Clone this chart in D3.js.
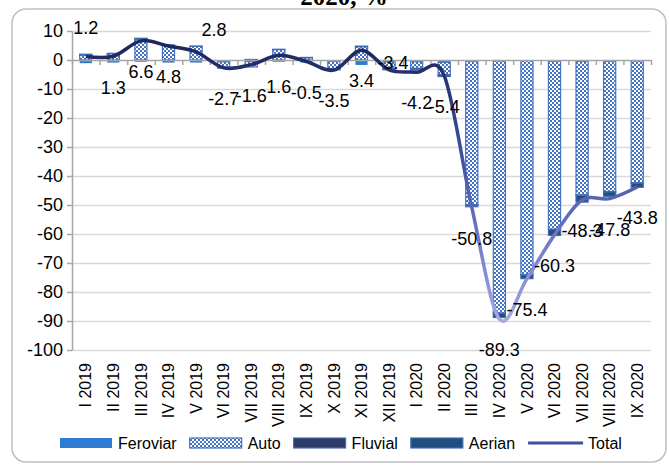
<!DOCTYPE html>
<html>
<head>
<meta charset="utf-8">
<script src="https://cdn.jsdelivr.net/npm/d3@7"></script>
<style>
    body { margin: 0; background: #fff; }
    svg { display: block; }
    text { font-family: "Liberation Sans", Arial, sans-serif; fill: #000; }
</style>
</head>
<body>
<div id="chart"></div>
<script>
// data: contributions per mode (stacked) and total change, %
const categories = ["I 2019", "II 2019", "III 2019", "IV 2019", "V 2019", "VI 2019", "VII 2019",
    "VIII 2019", "IX 2019", "X 2019", "XI 2019", "XII 2019", "I 2020", "II 2020", "III 2020",
    "IV 2020", "V 2020", "VI 2020", "VII 2020", "VIII 2020", "IX 2020"];
const feroviar = [-1.1, -0.9, -0.6, -0.9, -0.9, -0.6, -0.5, -0.6, -0.9, -0.4, -1.7, -0.5, -0.6, -0.8,
    -0.4, -0.3, -0.2, -0.4, -0.5, -0.4, -0.3];
const auto = [1.7, 2.2, 7.2, 5.0, 4.7, -1.9, -1.9, 3.6, 0.8, -2.6, 4.6, -2.5, -2.3, -4.3,
    -49.5, -87.0, -73.9, -58.0, -46.1, -45.0, -42.1];
const fluvial = [0.1, 0, 0.1, 0, 0, -0.1, 0.1, 0, 0, -0.1, 0, -0.1, -0.1, -0.1,
    -0.2, -0.1, -0.1, -0.1, -0.1, -0.1, -0.1];
const aerian = [0.2, 0.1, 0.2, 0.2, 0.1, -0.2, 0.1, 0.1, 0.1, -0.3, 0.2, -0.3, -0.4, -0.5,
    -0.5, -1.4, -1.2, -2.0, -2.3, -1.5, -1.4];
const total = [1.2, 1.3, 6.6, 4.8, 2.8, -2.7, -1.6, 1.6, -0.5, -3.5, 3.4, -3.4, -4.2, -5.4,
    -50.8, -89.3, -75.4, -60.3, -48.3, -47.8, -43.8];
const yTicks = [10, 0, -10, -20, -30, -40, -50, -60, -70, -80, -90, -100];
// where each total label sits relative to its point
const labelPlace = ["above", "below", "below", "below", "aboveRight", "below", "below", "below",
    "below", "below", "below", "on", "below", "below", "below", "below", "below", "below",
    "below", "below", "below"];

const seriesNames = ["Feroviar", "Auto", "Fluvial", "Aerian"];
const seriesFill = {
    Feroviar: "#2E7BD6",
    Auto: "url(#autoPattern)",
    Fluvial: "#2C3B68",
    Aerian: "#1F4E80"
};
const seriesStroke = {
    Feroviar: "none",
    Auto: "#4472C4",
    Fluvial: "#4F6AAE",
    Aerian: "#3F6DB5"
};

let width = 669,
    height = 470;
let margin = { left: 72, right: 18, top: 31, bottom: 120 };

let svg = d3.select("#chart").append("svg")
    .attr("width", width)
    .attr("height", height);

let defs = svg.append("defs");

let pat = defs.append("pattern")
    .attr("id", "autoPattern")
    .attr("patternUnits", "userSpaceOnUse")
    .attr("width", 4)
    .attr("height", 4);
pat.append("rect").attr("width", 4).attr("height", 4).attr("fill", "#4472C4");
pat.append("rect").attr("width", 2).attr("height", 2).attr("fill", "#fff");
pat.append("rect").attr("x", 2).attr("y", 2).attr("width", 2).attr("height", 2).attr("fill", "#fff");

// chart frame
svg.append("rect")
    .attr("x", 12).attr("y", 9)
    .attr("width", 654).attr("height", 453)
    .attr("rx", 14)
    .attr("fill", "#fff")
    .attr("stroke", "#BFBFBF")
    .attr("stroke-width", 1.5);

// title, mostly cut off by the top edge
svg.append("text")
    .attr("x", 344).attr("y", 5)
    .attr("text-anchor", "middle")
    .style("font-family", "'Liberation Serif', 'Times New Roman', serif")
    .style("font-weight", "bold")
    .style("font-size", "25px")
    .text("2020, %");

let x = d3.scaleBand()
    .domain(categories)
    .range([margin.left, width - margin.right])
    .paddingInner(0.56)
    .paddingOuter(0.28);

let y = d3.scaleLinear()
    .domain([-100, 10])
    .range([height - margin.bottom, margin.top]);

let slot = d3.scaleLinear()
    .domain([0, categories.length])
    .range([margin.left, width - margin.right]);

// gridlines
svg.append("g")
    .attr("transform", "translate(" + margin.left + ",0)")
    .call(d3.axisLeft(y).tickValues(yTicks.filter(function (d) { return d !== 0; }))
        .tickSize(-(width - margin.left - margin.right)).tickFormat(""))
    .call(function (g) { g.select(".domain").remove(); })
    .selectAll("line")
    .attr("stroke", "#D9D9D9")
    .attr("stroke-width", 1.5);

// y axis (plain hyphen for negatives, like the original)
let yAxis = svg.append("g")
    .attr("transform", "translate(" + margin.left + ",0)")
    .call(d3.axisLeft(y).tickValues(yTicks).tickSize(5).tickPadding(4).tickSizeOuter(0)
        .tickFormat(function (d) { return String(d); }));
yAxis.select(".domain").attr("stroke", "#A6A6A6").attr("stroke-width", 1.5);
yAxis.selectAll("line").attr("stroke", "#A6A6A6").attr("stroke-width", 1.5);
yAxis.selectAll("text")
    .style("font-size", "18px")
    .style("font-family", "'Liberation Sans', Arial, sans-serif")
    .attr("fill", "#000");

// stacked bars
let rows = categories.map(function (c, i) {
    return { cat: c, Feroviar: feroviar[i], Auto: auto[i], Fluvial: fluvial[i], Aerian: aerian[i] };
});
let stacked = d3.stack().keys(seriesNames).offset(d3.stackOffsetDiverging)(rows);

svg.append("g")
    .selectAll("g")
    .data(stacked)
    .enter().append("g")
    .attr("fill", function (d) { return seriesFill[d.key]; })
    .attr("stroke", function (d) { return seriesStroke[d.key]; })
    .attr("stroke-width", 1.2)
    .selectAll("rect")
    .data(function (d) { return d; })
    .enter().append("rect")
    .attr("x", function (d) { return x(d.data.cat); })
    .attr("width", x.bandwidth())
    .attr("y", function (d) { return y(Math.max(d[0], d[1])); })
    .attr("height", function (d) { return Math.abs(y(d[0]) - y(d[1])); });

// category axis on zero
let xAxis = svg.append("g")
    .attr("transform", "translate(0," + y(0) + ")")
    .call(d3.axisBottom(slot).tickValues(d3.range(categories.length + 1)).tickSize(5).tickFormat("").tickSizeOuter(0));
xAxis.select(".domain").attr("stroke", "#A6A6A6").attr("stroke-width", 1.5);
xAxis.selectAll("line").attr("stroke", "#A6A6A6").attr("stroke-width", 1.5);

// category labels, low position
svg.append("g")
    .selectAll("text")
    .data(categories)
    .enter().append("text")
    .attr("transform", function (d) {
        return "translate(" + (x(d) + x.bandwidth() / 2) + "," + (y(-100) + 13) + ") rotate(-90)";
    })
    .attr("text-anchor", "end")
    .attr("dy", "0.35em")
    .style("font-size", "16px")
    .text(function (d) { return d; });

// total line
let grad = defs.append("linearGradient")
    .attr("id", "lineGrad")
    .attr("gradientUnits", "userSpaceOnUse")
    .attr("x1", 0).attr("x2", 0)
    .attr("y1", y(5)).attr("y2", y(-90));
grad.append("stop").attr("offset", 0).attr("stop-color", "#1D275C");
grad.append("stop").attr("offset", 0.35).attr("stop-color", "#3C4A98");
grad.append("stop").attr("offset", 0.6).attr("stop-color", "#6069B9");
grad.append("stop").attr("offset", 1).attr("stop-color", "#A3A8E4");

let line = d3.line()
    .x(function (d, i) { return x(categories[i]) + x.bandwidth() / 2; })
    .y(function (d) { return y(d); })
    .curve(d3.curveCardinal.tension(0));

svg.append("path")
    .datum(total)
    .attr("d", line)
    .attr("fill", "none")
    .attr("stroke", "url(#lineGrad)")
    .attr("stroke-width", 3.5)
    .attr("stroke-linejoin", "round");

// total labels
svg.append("g")
    .selectAll("text")
    .data(total)
    .enter().append("text")
    .attr("x", function (d, i) {
        let cx = x(categories[i]) + x.bandwidth() / 2;
        if (labelPlace[i] === "aboveRight") return cx + 18;
        if (labelPlace[i] === "on") return cx + 4;
        return cx;
    })
    .attr("y", function (d, i) {
        let p = labelPlace[i];
        if (p === "above") return y(d) - 29;
        if (p === "aboveRight") return y(d) - 22;
        if (p === "on") return y(d) - 7;
        return y(d) + 31;
    })
    .attr("dy", "0.35em")
    .attr("text-anchor", "middle")
    .style("font-size", "18px")
    .text(function (d) { return d.toFixed(1); });

// legend
let legend = svg.append("g").attr("transform", "translate(0,443)");
let cursor = 60;
seriesNames.concat(["Total"]).forEach(function (name) {
    if (name === "Total") {
        legend.append("line")
            .attr("x1", cursor).attr("x2", cursor + 55)
            .attr("stroke", "#3F4E9E").attr("stroke-width", 3);
        cursor += 60;
    } else {
        legend.append("rect")
            .attr("x", cursor).attr("y", -5)
            .attr("width", 52).attr("height", 10)
            .attr("fill", seriesFill[name])
            .attr("stroke", seriesStroke[name])
            .attr("stroke-width", 1.2);
        cursor += 58;
    }
    let t = legend.append("text")
        .attr("x", cursor)
        .attr("dy", "0.35em")
        .style("font-size", "16px")
        .text(name);
    cursor += t.node().getComputedTextLength() + 13;
});
</script>
</body>
</html>
